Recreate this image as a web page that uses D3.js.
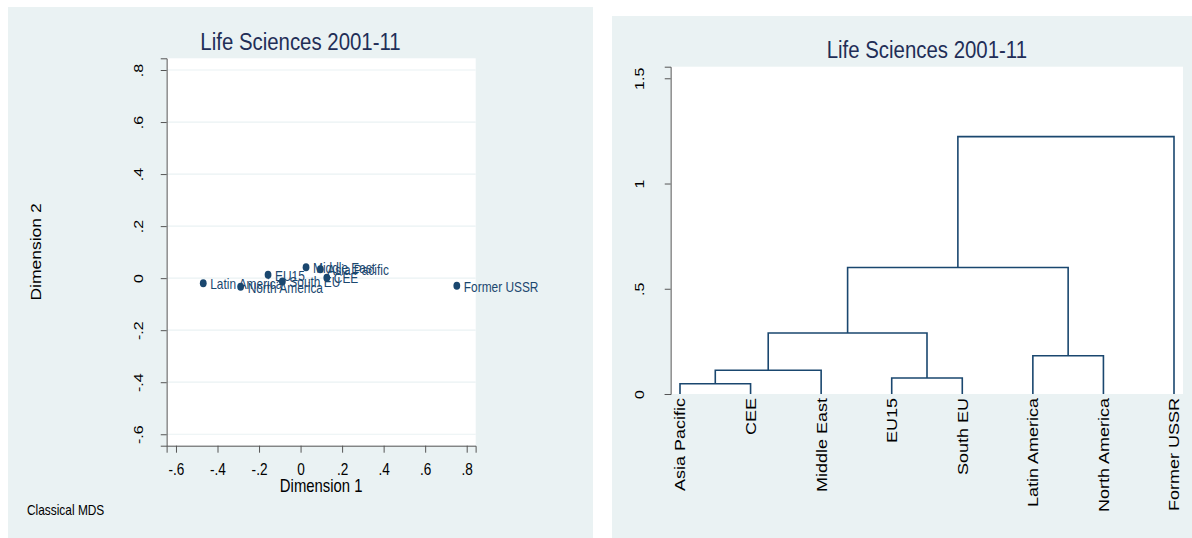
<!DOCTYPE html>
<html>
<head>
<meta charset="utf-8">
<script src="https://cdn.jsdelivr.net/npm/d3@7"></script>
<style>
  html, body { margin: 0; padding: 0; background: #ffffff; }
  svg { display: block; }
  text { font-family: "Liberation Sans", Arial, sans-serif; }
</style>
</head>
<body>
<svg id="chart" width="1192" height="538"></svg>
<script>
// ---------- data ----------
const chartTitle = "Life Sciences 2001-11";

// Classical MDS coordinates
const mdsNames = ["Latin America", "North America", "EU15", "South EU", "Middle East", "Asia Pacific", "CEE", "Former USSR"];
const mdsDim1  = [-0.469, -0.289, -0.157, -0.088, 0.026, 0.095, 0.126, 0.752];
const mdsDim2  = [-0.020, -0.033, 0.013, -0.013, 0.042, 0.034, 0.002, -0.029];
const mdsXTicks = [-0.6, -0.4, -0.2, 0, 0.2, 0.4, 0.6, 0.8];
const mdsYTicks = [-0.6, -0.4, -0.2, 0, 0.2, 0.4, 0.6, 0.8];

// Dendrogram: leaf order and merges [childA, childB, height]; indices >= 8 are earlier merges
const leafNames = ["Asia Pacific", "CEE", "Middle East", "EU15", "South EU", "Latin America", "North America", "Former USSR"];
const mergeA = [0, 8, 3, 5, 9, 12, 13];
const mergeB = [1, 2, 4, 6, 10, 11, 7];
const mergeHeight = [0.049, 0.1125, 0.076, 0.182, 0.290, 0.601, 1.223];
const dendroTicks = [0, 0.5, 1, 1.5];

// ---------- layout ----------
const K = 0.85;               // horizontal compression of the original image
const v = x => x / K;         // real px -> virtual px
const navy = "#1a476f";
const panelBg = "#eaf2f3";
const titleColor = "#1f2e57";
const axisColor = "#555555";

const svg = d3.select("#chart");
const root = svg.append("g").attr("transform", `scale(${K},1)`);

const fmt = d => d === 0 ? "0" : String(+d.toFixed(1)).replace(/^(-?)0\./, "$1.");

// ================= LEFT PANEL: MDS =================
const L = { bx0: 8, by0: 7, bx1: 593, by1: 538, px0: 166.7, px1: 475.7, py0: 58.3, py1: 445.7 };
root.append("rect").attr("x", v(L.bx0)).attr("y", L.by0)
  .attr("width", v(L.bx1 - L.bx0)).attr("height", L.by1 - L.by0).attr("fill", panelBg);
root.append("rect").attr("x", v(L.px0)).attr("y", L.py0)
  .attr("width", v(L.px1 - L.px0)).attr("height", L.py1 - L.py0).attr("fill", "#ffffff");

const mx = d3.scaleLinear().domain([-0.645, 0.843]).range([v(L.px0), v(L.px1)]);
const my = d3.scaleLinear().domain([-0.644, 0.845]).range([L.py1, L.py0]);

// gridlines
root.append("g").selectAll("line").data(mdsYTicks).join("line")
  .attr("x1", v(L.px0)).attr("x2", v(L.px1))
  .attr("y1", d => my(d)).attr("y2", d => my(d))
  .attr("stroke", panelBg).attr("stroke-width", 1.2);

// y axis
const myAxis = root.append("g").attr("transform", `translate(${v(L.px0)},0)`)
  .call(d3.axisLeft(my).tickValues(mdsYTicks).tickSizeOuter(0).tickSize(7).tickFormat(fmt));
myAxis.select(".domain").attr("stroke", axisColor).attr("vector-effect", "non-scaling-stroke");
myAxis.selectAll(".tick line").attr("stroke", axisColor).attr("vector-effect", "non-scaling-stroke");
myAxis.selectAll(".tick text")
  .attr("transform", "rotate(-90)").attr("x", 0).attr("y", -v(23.5)).attr("dy", 0)
  .attr("text-anchor", "middle").attr("font-size", 16).attr("fill", "#000")
  .style("font-family", "Liberation Sans, Arial, sans-serif");

// x axis
const mxAxis = root.append("g").attr("transform", `translate(0,${L.py1})`)
  .call(d3.axisBottom(mx).tickValues(mdsXTicks).tickSizeOuter(0).tickSize(7).tickFormat(fmt));
mxAxis.select(".domain").attr("stroke", axisColor).attr("vector-effect", "non-scaling-stroke");
mxAxis.selectAll(".tick line").attr("stroke", axisColor).attr("vector-effect", "non-scaling-stroke");
mxAxis.selectAll(".tick text").attr("y", 29).attr("dy", 0)
  .attr("font-size", 16).attr("fill", "#000")
  .style("font-family", "Liberation Sans, Arial, sans-serif");

// axis titles
root.append("text").attr("x", v((L.px0 + L.px1) / 2)).attr("y", 492)
  .attr("text-anchor", "middle").attr("font-size", 17.5).attr("fill", "#000").text("Dimension 1");
root.append("text").attr("transform", `translate(${v(41)},${(L.py0 + L.py1) / 2}) rotate(-90)`)
  .attr("text-anchor", "middle").attr("font-size", 17.5).attr("fill", "#000").text("Dimension 2");

// title (centred on the panel)
root.append("text").attr("x", v((L.bx0 + L.bx1) / 2)).attr("y", 50)
  .attr("text-anchor", "middle").attr("font-size", 24).attr("fill", titleColor).text(chartTitle);

// note
root.append("text").attr("x", v(27)).attr("y", 515)
  .attr("font-size", 14).attr("fill", "#000").text("Classical MDS");

// points + labels
const mdsData = mdsNames.map((n, i) => ({ name: n, x: mdsDim1[i], y: mdsDim2[i] }));
root.append("g").selectAll("circle").data(mdsData).join("circle")
  .attr("cx", d => mx(d.x)).attr("cy", d => my(d.y)).attr("r", 4).attr("fill", navy);
root.append("g").selectAll("text").data(mdsData).join("text")
  .attr("x", d => mx(d.x) + v(7)).attr("y", d => my(d.y)).attr("dy", "0.42em")
  .attr("font-size", 14).attr("fill", navy).text(d => d.name);

// ================= RIGHT PANEL: DENDROGRAM =================
const R = { bx0: 612, by0: 16, bx1: 1192, by1: 538, px0: 670.7, px1: 1183, py0: 66.7, py1: 394, lx0: 680, lx1: 1174 };
root.append("rect").attr("x", v(R.bx0)).attr("y", R.by0)
  .attr("width", v(R.bx1 - R.bx0)).attr("height", R.by1 - R.by0).attr("fill", panelBg);
root.append("rect").attr("x", v(R.px0)).attr("y", R.py0)
  .attr("width", v(R.px1 - R.px0)).attr("height", R.py1 - R.py0).attr("fill", "#ffffff");

const dx = d3.scalePoint().domain(leafNames).range([v(R.lx0), v(R.lx1)]);
const dy = d3.scaleLinear().domain([0, 1.555]).range([R.py1, R.py0]);

const dAxis = root.append("g").attr("transform", `translate(${v(R.px0)},0)`)
  .call(d3.axisLeft(dy).tickValues(dendroTicks).tickSizeOuter(0).tickSize(7).tickFormat(fmt));
dAxis.select(".domain").attr("stroke", axisColor).attr("vector-effect", "non-scaling-stroke");
dAxis.selectAll(".tick line").attr("stroke", axisColor).attr("vector-effect", "non-scaling-stroke");
dAxis.selectAll(".tick text")
  .attr("transform", "rotate(-90)").attr("x", 0).attr("y", -v(27)).attr("dy", 0)
  .attr("text-anchor", "middle").attr("font-size", 16).attr("fill", "#000")
  .style("font-family", "Liberation Sans, Arial, sans-serif");

root.append("text").attr("x", v((R.px0 + R.px1) / 2)).attr("y", 58)
  .attr("text-anchor", "middle").attr("font-size", 24).attr("fill", titleColor).text(chartTitle);

// build node positions
const nodeX = leafNames.map(n => dx(n));
const nodeH = leafNames.map(() => 0);
const links = [];
mergeA.forEach((a, i) => {
  const b = mergeB[i], h = mergeHeight[i];
  links.push({ xa: nodeX[a], ha: nodeH[a], xb: nodeX[b], hb: nodeH[b], h });
  nodeX.push((nodeX[a] + nodeX[b]) / 2);
  nodeH.push(h);
});
root.append("g").selectAll("path").data(links).join("path")
  .attr("d", d => `M${d.xa},${dy(d.ha)}V${dy(d.h)}H${d.xb}V${dy(d.hb)}`)
  .attr("fill", "none").attr("stroke", navy).attr("stroke-width", 1.6)
  .attr("vector-effect", "non-scaling-stroke");

// leaf labels
root.append("g").selectAll("text").data(leafNames).join("text")
  .attr("transform", d => `translate(${dx(d)},${R.py1 + 4}) rotate(-90)`)
  .attr("dy", "0.35em").attr("text-anchor", "end")
  .attr("font-size", 18).attr("fill", "#000").text(d => d);
</script>
</body>
</html>
